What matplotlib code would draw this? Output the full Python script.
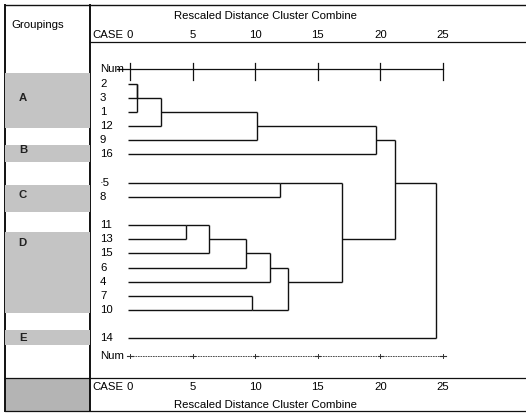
import matplotlib
matplotlib.use('Agg')
import matplotlib.pyplot as plt
from matplotlib import transforms

plt.rcParams['font.family'] = ['Liberation Sans', 'DejaVu Sans']
FS = 8.2

# ---------------- data ----------------
cases = ['2', '3', '1', '12', '9', '16', '·5', '8', '11', '13', '15', '6', '4', '7', '10', '14']
case_block = [0, 0, 0, 0, 0, 0, 1, 1, 2, 2, 2, 2, 2, 2, 2, 3]   # blank row between blocks

# merges: (left member, right member, rescaled distance)
merge_left = ['2', 'm0', 'm1', 'm2', 'm3', '·5', '11', 'm6', 'm7', 'm8', '7', 'm9', 'm5', 'm4', 'm13']
merge_right = ['3', '1', '12', '9', '16', '8', '13', '15', '6', '4', '10', 'm10', 'm11', 'm12', '14']
merge_dist = [0.56, 0.56, 2.48, 10.14, 19.65, 11.98, 4.47, 6.31, 9.27, 11.18, 9.74, 12.62, 16.93, 21.17, 24.44]

scale_ticks = [0, 5, 10, 15, 20, 25]

groups = ['A', 'B', 'C', 'D', 'E']
group_start = [-0.75, 4.34, 7.17, 10.49, 17.42]   # in case-row units
group_end = [3.13, 5.54, 9.07, 16.21, 18.48]
group_label_row = [1.01, 4.69, 7.87, 11.26, 17.98]

# ---------------- figure ----------------
W, H = 526, 413
fig = plt.figure(figsize=(W / 100, H / 100), dpi=100)

# frame axes in pixel coordinates
axf = fig.add_axes([0, 0, 1, 1])
axf.set_xlim(0, W)
axf.set_ylim(H, 0)
axf.axis('off')

# row -> pixel mapping
R0, RS = 83.67, 14.145
X0, XS = 130.0, 12.52
ytop = (42 - R0) / RS
ybot = (378 - R0) / RS

# dendrogram axes
ax = fig.add_axes([90 / W, 1 - 378 / H, (W - 90) / W, (378 - 42) / H])
ax.set_xlim((90 - X0) / XS, (W - X0) / XS)
ax.set_ylim(ybot, ytop)
ax.axis('off')

# left groupings axes
axl = fig.add_axes([5 / W, 1 - 378 / H, 85 / W, (378 - 42) / H])
axl.set_xlim(0, 1)
axl.set_ylim(ybot, ytop)
axl.axis('off')
for g, s, e, lr in zip(groups, group_start, group_end, group_label_row):
    axl.axhspan(s, e, color='#c4c4c4', lw=0, zorder=0)
    axl.text(0.21, lr, g, fontsize=FS, fontweight='bold', ha='center', va='center',
             color='#222222')

# bottom-left shaded cell
axf.add_patch(plt.Rectangle((5, 378), 85, 33, color='#b4b4b4', lw=0, zorder=0))

# frame lines
lc = '#111111'
axf.plot([5, W], [5, 5], color=lc, lw=1.0)
axf.plot([5, 5], [5, 411], color=lc, lw=1.4)
axf.plot([90, 90], [5, 411], color=lc, lw=1.4)
axf.plot([90, W], [42, 42], color=lc, lw=0.9)
axf.plot([5, W], [378, 378], color=lc, lw=0.9)
axf.plot([5, W], [411, 411], color=lc, lw=0.9)

axf.text(38, 25, 'Groupings', fontsize=FS, ha='center', va='center')

# header / footer scale labels
tr = transforms.blended_transform_factory(ax.transData, fig.transFigure)
for ycase, ytitle in [(35, 16), (387, 405)]:
    axf.text(92, ycase, 'CASE', fontsize=FS, ha='left', va='center')
    for t in scale_ticks:
        ax.text(t, 1 - ycase / H, str(t), fontsize=FS, ha='center', va='center', transform=tr)
    axf.text(266, ytitle, 'Rescaled Distance Cluster Combine', fontsize=FS,
             ha='center', va='center')

# Num rulers
num_top = (69 - R0) / RS
num_bot = (356 - R0) / RS
lab_x = (100 - X0) / XS
ax.text(lab_x, num_top, 'Num', fontsize=FS, ha='left', va='center')
ax.plot([(117 - X0) / XS, scale_ticks[-1]], [num_top, num_top], color=lc, lw=0.9)
for t in scale_ticks:
    ax.plot([t, t], [num_top - 0.45, num_top + 0.75], color=lc, lw=0.9)
ax.text(lab_x, num_bot, 'Num', fontsize=FS, ha='left', va='center')
ax.plot([scale_ticks[0], scale_ticks[-1]], [num_bot, num_bot], color='#333333', lw=0.6,
        ls=(0, (2, 1)))
for t in scale_ticks:
    ax.plot([t, t], [num_bot - 0.15, num_bot + 0.15], color='#333333', lw=0.7)
    ax.plot([t - 0.2, t + 0.2], [num_bot, num_bot], color='#333333', lw=0.8)

# case labels and dendrogram
def row_of(idx):
    return idx + case_block[idx]

nodes = {}
start_x = -0.15
for i, c in enumerate(cases):
    nodes[c] = (i, start_x)
    ax.text(lab_x, row_of(i), c, fontsize=FS, ha='left', va='center')

for k, (a, b, d) in enumerate(zip(merge_left, merge_right, merge_dist)):
    ia, xa = nodes[a]
    ib, xb = nodes[b]
    ra, rb = row_of(ia), row_of(ib)
    ax.plot([xa, d], [ra, ra], color=lc, lw=1.0, solid_capstyle='butt')
    ax.plot([xb, d], [rb, rb], color=lc, lw=1.0, solid_capstyle='butt')
    ax.plot([d, d], [ra, rb], color=lc, lw=1.0, solid_capstyle='butt')
    nodes['m%d' % k] = (round((ia + ib) / 2), d)

fig.savefig('out.png', dpi=100)
